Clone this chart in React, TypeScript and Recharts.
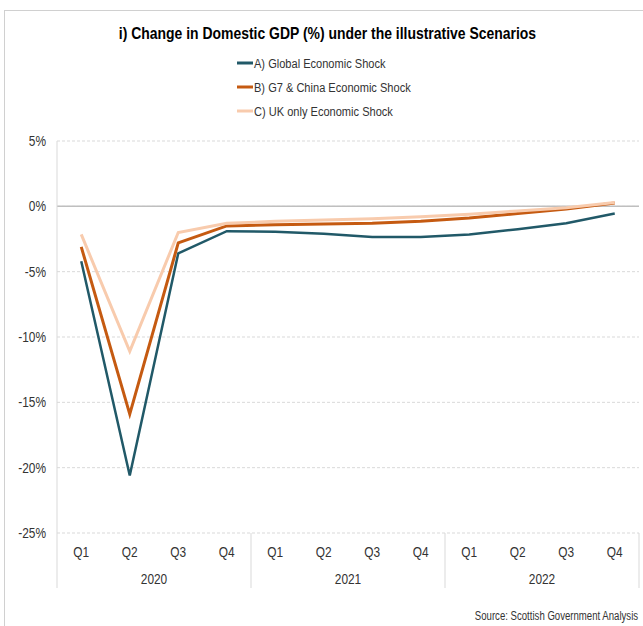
import React from "react";
import {
  LineChart,
  Line,
  XAxis,
  YAxis,
  CartesianGrid,
  ReferenceLine,
  Legend,
} from "recharts";

const quarters = ["Q1", "Q2", "Q3", "Q4", "Q1", "Q2", "Q3", "Q4", "Q1", "Q2", "Q3", "Q4"];
const years = ["2020", "2020", "2020", "2020", "2021", "2021", "2021", "2021", "2022", "2022", "2022", "2022"];

const globalShock = [-4.2, -20.6, -3.6, -1.9, -1.95, -2.1, -2.35, -2.35, -2.15, -1.75, -1.3, -0.55];
const g7ChinaShock = [-3.1, -15.9, -2.8, -1.5, -1.4, -1.35, -1.3, -1.15, -0.9, -0.55, -0.2, 0.25];
const ukOnlyShock = [-2.15, -11.1, -2.0, -1.3, -1.15, -1.05, -0.95, -0.8, -0.6, -0.35, -0.1, 0.3];

const yTicks = [5, 0, -5, -10, -15, -20, -25];

const data = quarters.map((q, i) => ({
  q,
  year: years[i],
  a: globalShock[i],
  b: g7ChinaShock[i],
  c: ukOnlyShock[i],
}));

// no narrow font installed, so squeeze Liberation Sans to look like Arial Narrow
const FONT = "'Liberation Sans', Arial, sans-serif";
const NARROW = 0.85;
const W = 643;
const H = 626;
const MARGIN = { top: 141, right: 4, bottom: 0, left: 0 };
const Y_AXIS_W = 57;
const BAND = (W - MARGIN.left - MARGIN.right - Y_AXIS_W) / data.length;

function NarrowText(props: any) {
  const { x, y, anchor = "middle", size = 14, sx = NARROW, children } = props;
  return (
    <text
      transform={`translate(${x} ${y}) scale(${sx} 1)`}
      textAnchor={anchor}
      fontSize={size}
      fill="#333"
      fontFamily={FONT}
    >
      {children}
    </text>
  );
}

function QuarterTick(props: any) {
  const { x, y, payload, index } = props;
  const i = payload?.index ?? index;
  const top = y - 8;
  return (
    <g>
      <NarrowText x={x} y={y + 16}>{payload.value}</NarrowText>
      {quarters[i] === "Q1" && (
        <line x1={x - BAND / 2} x2={x - BAND / 2} y1={top} y2={top + 55} stroke="#d9d9d9" />
      )}
      {i === data.length - 1 && (
        <line x1={x + BAND / 2} x2={x + BAND / 2} y1={top} y2={top + 55} stroke="#d9d9d9" />
      )}
      {quarters[i] === "Q2" && (
        <NarrowText x={x + BAND / 2} y={y + 43}>{years[i]}</NarrowText>
      )}
    </g>
  );
}

function PercentTick(props: any) {
  const { x, y, payload } = props;
  return (
    <NarrowText x={x + 1} y={y + 5} anchor="end">
      {`${payload.value}%`}
    </NarrowText>
  );
}

function LegendList(props: any) {
  const { payload } = props;
  return (
    <svg width={240} height={72}>
      {(payload || []).map((p: any, i: number) => (
        <g key={p.value}>
          <line x1={0} x2={16} y1={12 + i * 24} y2={12 + i * 24} stroke={p.color} strokeWidth={3} />
          <NarrowText x={17} y={17 + i * 24} anchor="start" size={13.5} sx={0.82}>
            {p.value}
          </NarrowText>
        </g>
      ))}
    </svg>
  );
}

export default function App() {
  return (
    <div
      style={{
        position: "absolute",
        left: 0,
        top: 0,
        width: W,
        height: H,
        overflow: "hidden",
        background: "#fff",
      }}
    >
      <div
        style={{
          position: "absolute",
          left: 4,
          top: 10,
          width: 700,
          height: 700,
          border: "1px solid #d0d0d0",
        }}
      />
      <div
        style={{
          position: "absolute",
          left: 0,
          width: 655,
          top: 24,
          textAlign: "center",
          fontFamily: FONT,
          fontWeight: "bold",
          fontSize: 17,
          color: "#000",
        }}
      >
        <span style={{ display: "inline-block", transform: "scaleX(0.82)", whiteSpace: "nowrap" }}>
          i) Change in Domestic GDP (%) under the illustrative Scenarios
        </span>
      </div>

      <div style={{ position: "absolute", left: 0, top: 0 }}>
        <LineChart width={W} height={H} data={data} margin={MARGIN}>
          <CartesianGrid vertical={false} stroke="#d9d9d9" strokeDasharray="3 2" />
          <XAxis
            dataKey="q"
            padding={{ left: BAND / 2, right: BAND / 2 }}
            height={H - 533}
            axisLine={false}
            tickLine={false}
            interval={0}
            tick={<QuarterTick />}
          />
          <YAxis
            width={Y_AXIS_W}
            domain={[-25, 5]}
            ticks={yTicks}
            axisLine={{ stroke: "#d9d9d9" }}
            tickLine={false}
            tick={<PercentTick />}
            tickMargin={6}
          />
          <ReferenceLine y={0} stroke="#bfbfbf" strokeWidth={1.5} />
          <Legend
            layout="horizontal"
            verticalAlign="middle"
            align="center"
            content={<LegendList />}
            wrapperStyle={{ position: "absolute", left: 237, top: 51, width: 240, height: 72 }}
          />
          <Line
            type="linear"
            dataKey="a"
            name="A) Global Economic Shock"
            stroke="#215968"
            strokeWidth={2.5}
            dot={false}
            isAnimationActive={false}
          />
          <Line
            type="linear"
            dataKey="b"
            name="B) G7 & China Economic Shock"
            stroke="#c55a11"
            strokeWidth={3}
            dot={false}
            isAnimationActive={false}
          />
          <Line
            type="linear"
            dataKey="c"
            name="C) UK only Economic Shock"
            stroke="#f8cbad"
            strokeWidth={3}
            dot={false}
            isAnimationActive={false}
          />
        </LineChart>
      </div>

      <div
        style={{
          position: "absolute",
          right: 5,
          top: 609,
          fontFamily: FONT,
          fontSize: 12,
          color: "#333",
        }}
      >
        <span style={{ display: "inline-block", transform: "scaleX(0.8)", transformOrigin: "right center", whiteSpace: "nowrap" }}>
          Source: Scottish Government Analysis
        </span>
      </div>
    </div>
  );
}
